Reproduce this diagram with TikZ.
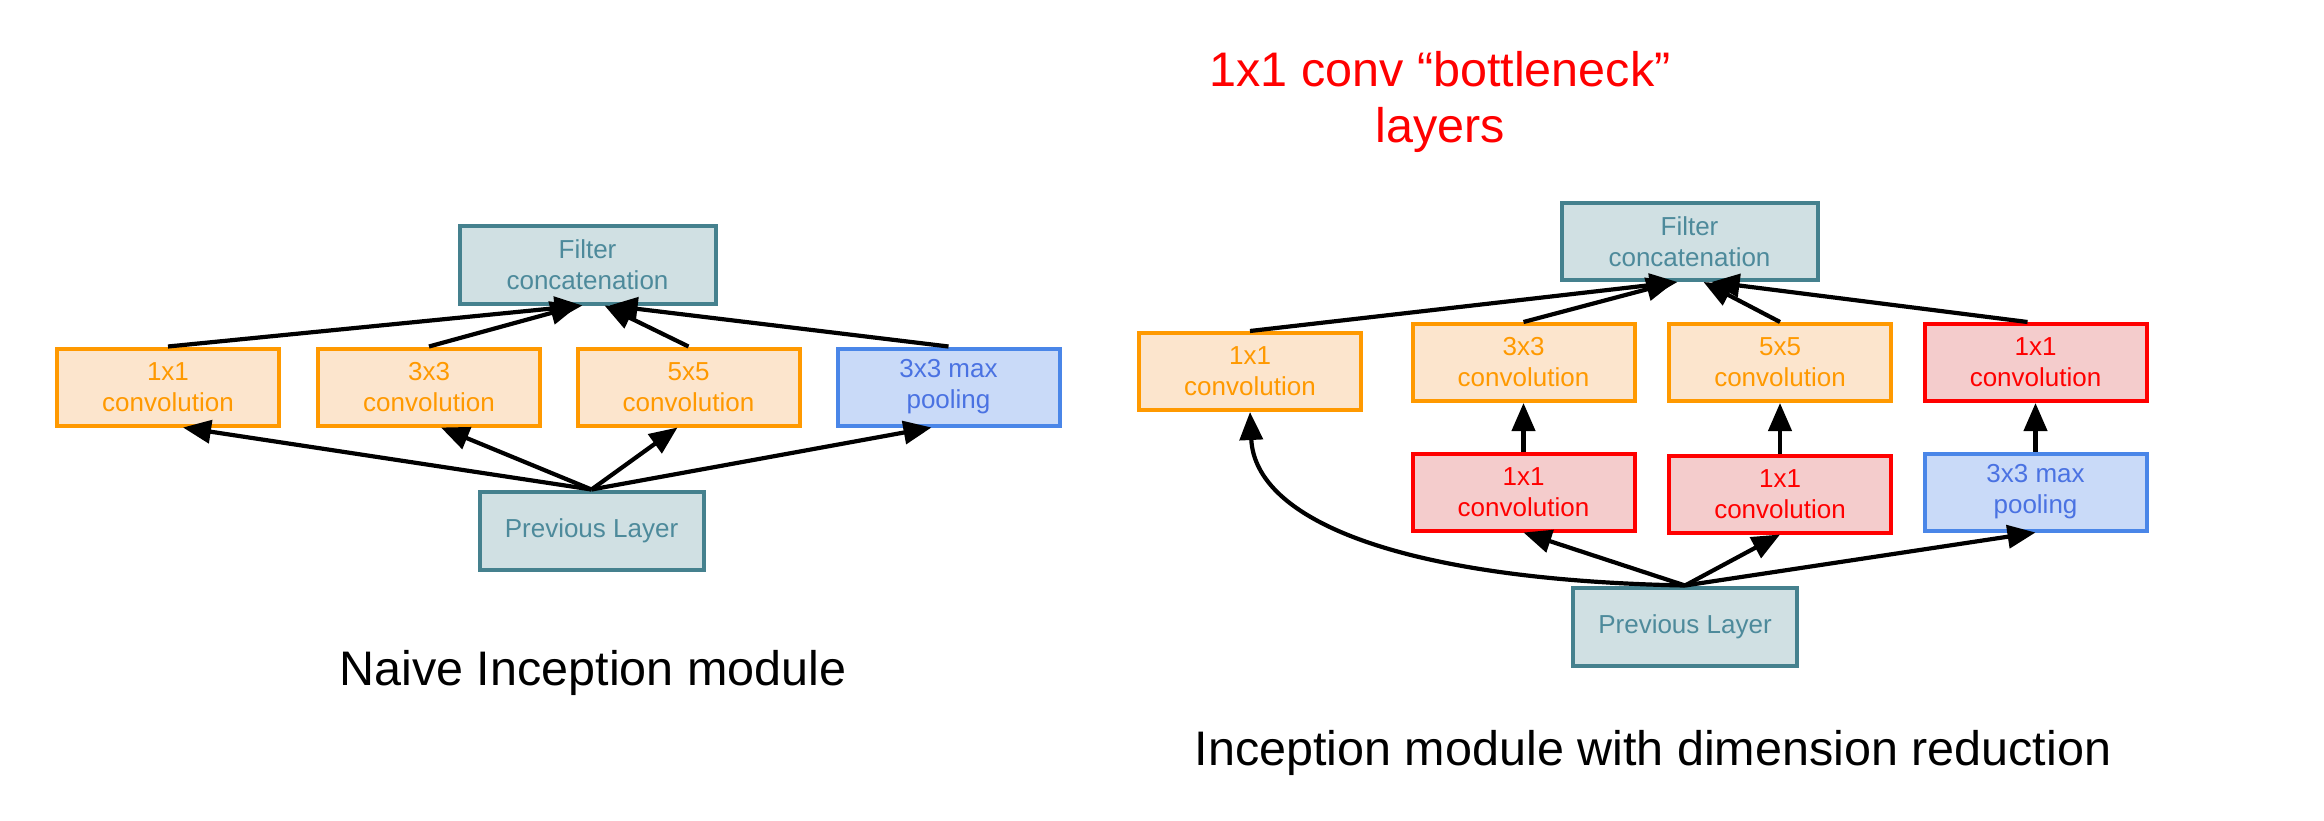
\documentclass[tikz,border=0pt]{standalone}
\usepackage{fontspec}
\setmainfont{Liberation Sans}
\usetikzlibrary{arrows.meta,calc}
\definecolor{orgB}{HTML}{FF9900}
\definecolor{orgF}{HTML}{FCE5CD}
\definecolor{bluB}{HTML}{4A86E8}
\definecolor{bluF}{HTML}{C9DAF8}
\definecolor{bluT}{HTML}{4A72E2}
\definecolor{redB}{HTML}{FF0000}
\definecolor{redF}{HTML}{F4CCCC}
\definecolor{tealB}{HTML}{45818E}
\definecolor{tealF}{HTML}{D0E0E3}
\definecolor{tealT}{HTML}{4D8A9B}
\tikzset{
  box/.style={rectangle, line width=4pt, minimum width=222pt, minimum height=77pt,
    inner sep=0pt, align=center, font=\fontsize{26}{31}\selectfont},
  orangebox/.style={box, draw=orgB, fill=orgF, text=orgB},
  bluebox/.style={box, draw=bluB, fill=bluF, text=bluT},
  redbox/.style={box, draw=redB, fill=redF, text=redB},
  tealbox/.style={box, draw=tealB, fill=tealF, text=tealT},
  catbox/.style={tealbox, minimum width=256pt},
  conn/.style={draw=black, line width=4.2pt, -{Triangle[length=28pt,width=23pt]}},
  titletext/.style={inner sep=0pt, anchor=base, font=\fontsize{48.5}{56}\selectfont}
}
\begin{document}
\begin{tikzpicture}[x=1pt,y=-1pt]
\useasboundingbox (0,0) rectangle (2324,821);
\fill[white] (0,0) rectangle (2324,821);

% ---------- Naive module ----------
\node[catbox]    (lcat)  at (587.5,265) {Filter\\concatenation};
\node[orangebox] (l1)    at (168,387)   {1x1\\convolution};
\node[orangebox] (l3)    at (429,387)   {3x3\\convolution};
\node[orangebox] (l5)    at (688.5,387) {5x5\\convolution};
\node[bluebox]   (lpool) at (948.5,387) {3x3 max\\pooling};
\node[tealbox, minimum width=224pt, minimum height=78pt] (lprev) at (591.5,530.5) {Previous Layer};
\node[titletext] (ltitle) at (593,685) {Naive Inception module};

\draw[conn] (l1.north)    -- ($(lcat.south)+(-5,0)$);
\draw[conn] (l3.north)    -- ($(lcat.south)+(-9,0)$);
\draw[conn] (l5.north)    -- ($(lcat.south)+(17,0)$);
\draw[conn] (lpool.north) -- ($(lcat.south)+(22,0)$);

\draw[conn] (lprev.north) -- ($(l1.south)+(15,0)$);
\draw[conn] (lprev.north) -- ($(l3.south)+(12,0)$);
\draw[conn] (lprev.north) -- ($(l5.south)+(-11,0)$);
\draw[conn] (lprev.north) -- ($(lpool.south)+(-17,0)$);

% ---------- Module with dimension reduction ----------
\node[catbox]    (rcat)  at (1689.5,241.5) {Filter\\concatenation};
\node[orangebox] (r1)    at (1250,371.5)   {1x1\\convolution};
\node[orangebox] (r3)    at (1523.5,362.5) {3x3\\convolution};
\node[orangebox] (r5)    at (1780,362.5)   {5x5\\convolution};
\node[redbox]    (rr)    at (2035.5,362.5) {1x1\\convolution};
\node[redbox]    (ra)    at (1523.5,492)   {1x1\\convolution};
\node[redbox]    (rb)    at (1780,494)     {1x1\\convolution};
\node[bluebox]   (rpool) at (2035.5,492)   {3x3 max\\pooling};
\node[tealbox, minimum width=224pt, minimum height=78pt] (rprev) at (1685,626.5) {Previous Layer};
\node[titletext] (rtitle) at (1653,765) {Inception module with dimension reduction};
\node[inner sep=0pt, align=center, text=redB, font=\fontsize{48.5}{56}\selectfont]
  (bneck) at (1440,102) {1x1 conv “bottleneck”\\layers};

\draw[conn] (r1.north) -- ($(rcat.south)+(-12,0)$);
\draw[conn] (r3.north) -- ($(rcat.south)+(-15,0)$);
\draw[conn] (r5.north) -- ($(rcat.south)+(14,0)$);
\draw[conn] ($(rr.north)+(-8,0)$) -- ($(rcat.south)+(22,0)$);

\draw[conn] (ra.north)    -- (r3.south);
\draw[conn] (rb.north)    -- (r5.south);
\draw[conn] (rpool.north) -- (rr.south);

\draw[conn] (rprev.north) .. controls (1400,580) and (1255,520) .. (r1.south);
\draw[conn] (rprev.north) -- (ra.south);
\draw[conn] (rprev.north) -- (rb.south);
\draw[conn] (rprev.north) -- (rpool.south);
\end{tikzpicture}
\end{document}
